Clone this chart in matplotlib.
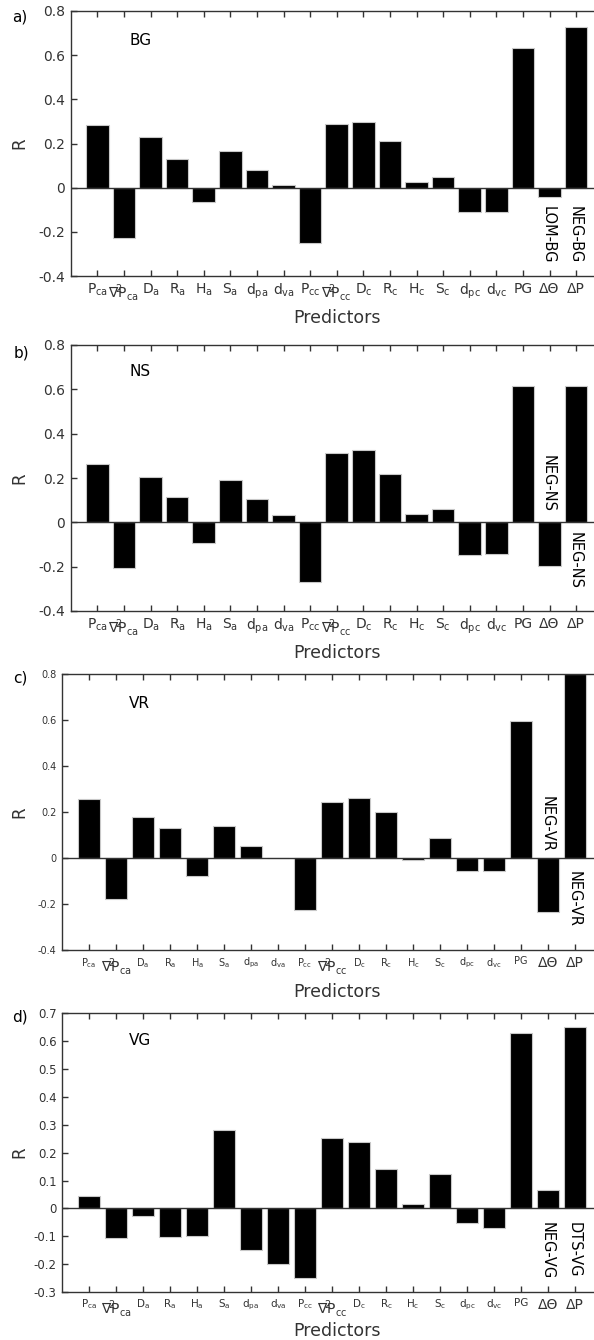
import matplotlib
matplotlib.use("Agg")
import matplotlib.pyplot as plt
import numpy as np

plt.rcParams["font.family"] = ["DejaVu Sans"]
plt.rcParams["mathtext.fontset"] = "dejavusans"
plt.rcParams["mathtext.default"] = "regular"

# Predictor names shown on the x axis
predictors = [r"$P_{ca}$", r"$\nabla^{\!2}\!\!P_{ca}$", r"$D_{a}$", r"$R_{a}$",
              r"$H_{a}$", r"$S_{a}$", r"$d_{pa}$", r"$d_{va}$", r"$P_{cc}$",
              r"$\nabla^{\!2}\!\!P_{cc}$", r"$D_{c}$", r"$R_{c}$", r"$H_{c}$",
              r"$S_{c}$", r"$d_{pc}$", r"$d_{vc}$", "PG", "ΔΘ", "ΔP"]

# Correlation coefficient R for each predictor
r_bg = [0.283, -0.230, 0.229, 0.128, -0.063, 0.165, 0.078, 0.014, -0.251, 0.289,
        0.298, 0.212, 0.027, 0.050, -0.108, -0.108, 0.633, -0.042, 0.726]
r_ns = [0.263, -0.205, 0.204, 0.113, -0.095, 0.189, 0.104, 0.033, -0.270, 0.312,
        0.325, 0.219, 0.036, 0.062, -0.149, -0.142, 0.617, -0.198, 0.617]
r_vr = [0.259, -0.178, 0.181, 0.132, -0.078, 0.142, 0.054, 0.000, -0.223, 0.243,
        0.262, 0.200, -0.009, 0.090, -0.055, -0.055, 0.599, -0.235, 0.800]
r_vg = [0.043, -0.107, -0.028, -0.103, -0.100, 0.280, -0.151, -0.201, -0.251, 0.251,
        0.239, 0.141, 0.014, 0.124, -0.053, -0.069, 0.629, 0.067, 0.652]

panel_letters = ["a)", "b)", "c)", "d)"]
panel_names = ["BG", "NS", "VR", "VG"]
y_ticks_ab = [-0.4, -0.2, 0, 0.2, 0.4, 0.6, 0.8]
y_ticks_d = [-0.3, -0.2, -0.1, 0, 0.1, 0.2, 0.3, 0.4, 0.5, 0.6, 0.7]

# Vertical annotations: (bar index, y value, text)
notes_bg = [(17, -0.214, "LOM-BG"), (18, -0.214, "NEG-BG")]
notes_ns = [(17, 0.173, "NEG-NS"), (18, -0.170, "NEG-NS")]
notes_vr = [(17, 0.149, "NEG-VR"), (18, -0.177, "NEG-VR")]
notes_vg = [(17, -0.153, "NEG-VG"), (18, -0.150, "DTS-VG")]

W, H = 594, 1340
fig = plt.figure(figsize=(W / 100, H / 100), dpi=100)

DARK = "#333333"


def fmt(v):
    if abs(v) < 1e-9:
        return "0"
    return "%.1f" % v


# left, top, right, bottom in pixels
layout = [
    dict(box=(70.7, 11, 602.7, 276), lim=(-0.4, 0.8), ticks=y_ticks_ab, vals=r_bg,
         notes=notes_bg, ysize=10, xsmall=10, xbig=10, name_xy=(0.11, 0.89),
         plab=-0.125, letter_xy=(20, 17)),
    dict(box=(70.7, 345, 602.7, 611), lim=(-0.4, 0.8), ticks=y_ticks_ab, vals=r_ns,
         notes=notes_ns, ysize=10, xsmall=10, xbig=10, name_xy=(0.11, 0.90),
         plab=-0.125, letter_xy=(21, 353)),
    dict(box=(62, 674.3, 602, 950.3), lim=(-0.4, 0.8), ticks=y_ticks_ab, vals=r_vr,
         notes=notes_vr, ysize=7, xsmall=7, xbig=10, name_xy=(0.124, 0.895),
         plab=-0.12, letter_xy=(20, 678)),
    dict(box=(62, 1013.3, 602, 1292), lim=(-0.3, 0.7), ticks=y_ticks_d, vals=r_vg,
         notes=notes_vg, ysize=8.5, xsmall=7.5, xbig=10, name_xy=(0.124, 0.902),
         plab=-0.107, letter_xy=(20, 1017)),
]

big_idx = {1, 9, 17, 18}
x = np.arange(1, len(predictors) + 1)

for k, cfg in enumerate(layout):
    l, t, r, b = cfg["box"]
    ax = fig.add_axes([l / W, (H - b) / H, (r - l) / W, (b - t) / H])
    ax.bar(x, cfg["vals"], width=0.85, color="black", edgecolor="#c8c8c8",
           linewidth=0.8, zorder=2)
    ax.axhline(0, color=DARK, lw=1.0, zorder=3)
    ax.set_xlim(0, len(predictors) + 1)
    ax.set_ylim(*cfg["lim"])
    ax.set_yticks(cfg["ticks"])
    ax.set_yticklabels([fmt(v) for v in cfg["ticks"]], fontsize=cfg["ysize"],
                       color=DARK)
    ax.set_xticks(x)
    ax.set_xticklabels(predictors, color=DARK)
    for i, lab in enumerate(ax.get_xticklabels()):
        lab.set_fontsize(cfg["xbig"] if i in big_idx else cfg["xsmall"])
    ax.tick_params(direction="in", top=True, right=True, length=4, width=1.0,
                   color=DARK, pad=4)
    for s in ax.spines.values():
        s.set_color(DARK)
        s.set_linewidth(1.0)
    ax.set_ylabel("R", fontsize=12, color=DARK)
    ax.yaxis.set_label_coords((28.5 - l) / (r - l), 0.5)
    ax.set_xlabel("Predictors", fontsize=12.5, color=DARK)
    ax.xaxis.set_label_coords((337 - l) / (r - l), cfg["plab"])
    ax.text(cfg["name_xy"][0], cfg["name_xy"][1], panel_names[k], transform=ax.transAxes,
            ha="left", va="center", fontsize=11, color="black")
    for idx, yv, txt in cfg["notes"]:
        ax.text(idx + 1 - 0.05, yv, txt, rotation=-90, ha="center", va="center",
                fontsize=10.5, color="black", zorder=4)
    lx, ly = cfg["letter_xy"]
    fig.text(lx / W, 1 - ly / H, panel_letters[k], ha="center", va="center",
             fontsize=11, color="black")

fig.savefig("out.png", dpi=100)
